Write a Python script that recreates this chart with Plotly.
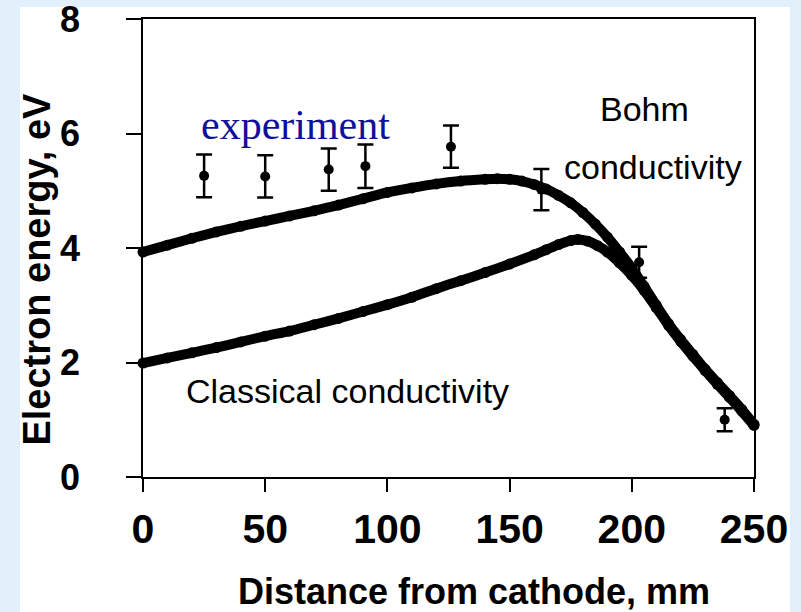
import plotly.graph_objects as go

# Model curves: electron energy (eV) vs distance from cathode (mm)
bohm_x = [0, 10, 20, 30, 40, 50, 60, 70, 80, 90, 100, 110, 120, 130, 140, 145,
          150, 155, 160, 165, 170, 175, 180, 185, 190, 195, 200, 205, 210, 215,
          220, 225, 230, 235, 240, 245, 250]
bohm_y = [3.93, 4.05, 4.17, 4.28, 4.38, 4.47, 4.56, 4.65, 4.75, 4.86, 4.97, 5.05,
          5.12, 5.17, 5.20, 5.21, 5.20, 5.17, 5.11, 5.03, 4.92, 4.79, 4.62, 4.42,
          4.19, 3.93, 3.65, 3.33, 3.00, 2.68, 2.40, 2.14, 1.88, 1.65, 1.42, 1.18,
          0.92]

classical_x = [0, 10, 20, 30, 40, 50, 60, 70, 80, 90, 100, 110, 120, 130, 140,
               150, 160, 165, 170, 175, 178, 182, 186, 190, 195, 200, 205, 210,
               215, 220, 225, 230, 235, 240, 245, 250]
classical_y = [1.99, 2.08, 2.17, 2.26, 2.36, 2.46, 2.55, 2.66, 2.77, 2.89, 3.01,
               3.14, 3.29, 3.43, 3.57, 3.72, 3.88, 3.97, 4.06, 4.13, 4.15, 4.12,
               4.04, 3.93, 3.74, 3.52, 3.26, 2.96, 2.65, 2.37, 2.11, 1.86, 1.62,
               1.39, 1.15, 0.90]

# Measured points with error bars
exp_x = [25, 50, 76, 91, 126, 163, 203, 238]
exp_y = [5.26, 5.25, 5.37, 5.43, 5.77, 5.02, 3.75, 1.00]
exp_err = [0.375, 0.37, 0.37, 0.38, 0.37, 0.36, 0.27, 0.20]

x_ticks = [0, 50, 100, 150, 200, 250]
y_ticks = [0, 2, 4, 6, 8]

fig = go.Figure()

fig.add_trace(go.Scatter(
    x=exp_x, y=exp_y, mode="markers",
    marker=dict(color="black", size=10),
    error_y=dict(type="data", array=exp_err, visible=True,
                 color="black", thickness=2.5, width=8),
    showlegend=False, cliponaxis=False,
))

for xs, ys in ((classical_x, classical_y), (bohm_x, bohm_y)):
    fig.add_trace(go.Scatter(
        x=xs, y=ys, mode="lines+markers",
        line=dict(color="black", width=10, shape="spline", smoothing=0.6),
        marker=dict(color="black", size=11),
        showlegend=False, cliponaxis=False,
    ))

label_font = "Liberation Sans, Arial, sans-serif"
fig.add_annotation(x=205, y=6.42, text="Bohm", showarrow=False,
                   font=dict(family=label_font, size=34, color="black"))
fig.add_annotation(x=208.7, y=5.42, text="conductivity", showarrow=False,
                   font=dict(family=label_font, size=34, color="black"))
fig.add_annotation(x=83.5, y=1.50, text="Classical conductivity", showarrow=False,
                   font=dict(family=label_font, size=34, color="black"))
fig.add_annotation(x=62.6, y=6.14, text="experiment", showarrow=False,
                   font=dict(family="Liberation Serif, Times New Roman, serif",
                             size=42, color="#10109a"))

# Axis titles
fig.add_annotation(xref="paper", yref="paper", x=0.541, y=-0.251,
                   text="<b>Distance from cathode, mm</b>", showarrow=False,
                   xanchor="center", yanchor="middle",
                   font=dict(family="Liberation Sans, Arial, sans-serif",
                             size=36, color="black"))
fig.add_annotation(xref="paper", yref="paper", x=-0.175, y=0.453,
                   text="<b>Electron energy, eV</b>", showarrow=False,
                   textangle=-90, xanchor="center", yanchor="middle",
                   font=dict(family="Liberation Sans, Arial, sans-serif",
                             size=38, color="black"))

# White panel behind the chart
fig.add_shape(type="rect", xref="paper", yref="paper", layer="below",
              x0=(20 - 143) / 611, x1=(790 - 143) / 611,
              y0=(477 - 612) / 458, y1=(477 - 7) / 458,
              fillcolor="white", line=dict(width=0))

fig.update_xaxes(
    range=[0, 250], tickvals=x_ticks, ticks="outside", ticklen=13,
    tickwidth=2, tickcolor="black", showline=True, linecolor="black",
    linewidth=1.5, mirror=True, showgrid=False, zeroline=False,
    ticklabelstandoff=2, ticklabeloverflow="allow", automargin=False,
    tickfont=dict(family="Liberation Sans, Arial, sans-serif", size=41,
                  color="black", weight="bold"),
)
fig.update_yaxes(
    range=[0, 8], tickvals=y_ticks, ticks="outside", ticklen=15,
    tickwidth=2, tickcolor="black", showline=True, linecolor="black",
    linewidth=1.5, mirror=True, showgrid=False, zeroline=False,
    ticklabelstandoff=39, ticklabeloverflow="allow", automargin=False,
    tickfont=dict(family="Liberation Sans, Arial, sans-serif", size=36,
                  color="black", weight="bold"),
)

fig.update_layout(
    width=801, height=612,
    margin=dict(l=143, r=47, t=19, b=135),
    paper_bgcolor="#e2f0fb", plot_bgcolor="white",
)

fig.write_html("out.html")
